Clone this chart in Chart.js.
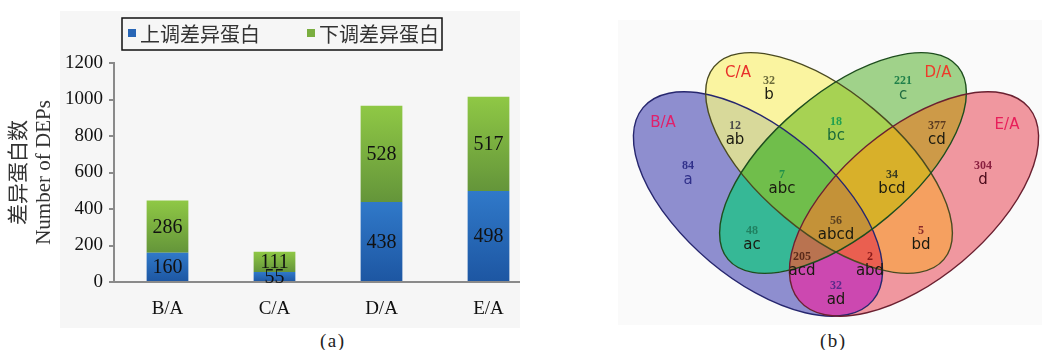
<!DOCTYPE html>
<html>
<head>
<meta charset="utf-8">
<script src="https://cdn.jsdelivr.net/npm/chart.js@4.4.1/dist/chart.umd.min.js"></script>
<style>
  body { margin: 0; width: 1042px; height: 350px; background: #fff; position: relative; overflow: hidden; }
  .panel { position: absolute; }
  #panelA { left: 60px; top: 11px; width: 460px; height: 317px; background: #f6f6f6; }
  #wrapA { position: absolute; left: 0; top: 0; width: 520px; height: 350px; overflow: hidden; }
  #panelB { left: 618px; top: 20px; width: 424px; height: 305px; background: #fafafa; }
  #vennChart { position: absolute; left: 620px; top: 20px; }
  .caption { position: absolute; top: 330px; font: 19px 'Liberation Serif', serif; letter-spacing: 1.5px; color: #222; }
</style>
</head>
<body>
<div class="panel" id="panelA"></div>
<div id="wrapA"><canvas id="barChart" width="545" height="330"></canvas></div>
<div class="panel" id="panelB"></div>
<canvas id="vennChart" width="420" height="305"></canvas>
<div class="caption" style="left:320px">(a)</div>
<div class="caption" style="left:820px">(b)</div>

<script>
// bar chart data
const categories = ['B/A', 'C/A', 'D/A', 'E/A'];
const upRegulated = [160, 55, 438, 498];
const downRegulated = [286, 111, 528, 517];
const seriesNames = ['上调差异蛋白', '下调差异蛋白'];
const yMax = 1200;
const yStep = 200;

// venn data: region keys use a=B/A, b=C/A, c=D/A, d=E/A
const setNames = ['B/A', 'C/A', 'D/A', 'E/A'];
const regionKeys = ['a', 'b', 'c', 'd', 'ab', 'bc', 'cd', 'ac', 'abc', 'bcd', 'bd', 'abcd', 'acd', 'abd', 'ad'];
const regionCounts = [84, 32, 221, 304, 12, 18, 377, 48, 7, 34, 5, 56, 205, 2, 32];

const serif = "'Liberation Serif', 'Times New Roman', serif";
const cjk = "'Liberation Serif', 'Noto Sans CJK SC', serif";
const sans = "'DejaVu Sans', sans-serif";

const barColors = [
  { top: '#3079c9', bottom: '#1d56a2', flat: '#2866b6' },
  { top: '#8fc845', bottom: '#64953a', flat: '#7aae40' }
];

function segmentGradient(c, ds) {
  const chart = c.chart;
  const y = chart.scales.y;
  const col = barColors[ds];
  if (!y || c.dataIndex === undefined) return col.flat;
  const i = c.dataIndex;
  const lo = ds === 0 ? 0 : upRegulated[i];
  const hi = ds === 0 ? upRegulated[i] : upRegulated[i] + downRegulated[i];
  const y0 = y.getPixelForValue(hi);
  const y1 = y.getPixelForValue(lo);
  if (!isFinite(y0) || !isFinite(y1)) return col.flat;
  const g = chart.ctx.createLinearGradient(0, y0, 0, y1);
  g.addColorStop(0, col.top);
  g.addColorStop(1, col.bottom);
  return g;
}

// boxed legend above the plot
const boxedLegend = {
  id: 'boxedLegend',
  afterDraw(chart) {
    const ctx = chart.ctx;
    const left = chart.chartArea.left + 8;
    const top = 18;
    ctx.save();
    ctx.strokeStyle = '#111';
    ctx.lineWidth = 1.5;
    ctx.strokeRect(left, top, 320, 32);
    ctx.font = "20px 'Noto Sans CJK SC', sans-serif";
    ctx.textBaseline = 'middle';
    chart.data.datasets.forEach((ds, i) => {
      const x = left + 6 + i * 179;
      ctx.fillStyle = barColors[i].flat;
      ctx.fillRect(x, top + 11, 8, 8);
      ctx.fillStyle = '#333';
      ctx.fillText(ds.label, x + 12, top + 16);
    });
    ctx.restore();
  }
};

// value labels centred in each stacked segment
const segmentLabels = {
  id: 'segmentLabels',
  afterDatasetsDraw(chart) {
    const ctx = chart.ctx;
    ctx.save();
    ctx.font = '20px ' + serif;
    ctx.fillStyle = '#111';
    ctx.textAlign = 'center';
    ctx.textBaseline = 'middle';
    chart.data.datasets.forEach((ds, d) => {
      chart.getDatasetMeta(d).data.forEach((bar, i) => {
        const p = bar.getProps(['x', 'y', 'base'], true);
        ctx.fillText(String(ds.data[i]), p.x, (p.y + p.base) / 2 + 1);
      });
    });
    ctx.restore();
  }
};

new Chart(document.getElementById('barChart'), {
  type: 'bar',
  data: {
    labels: categories,
    datasets: [
      { label: seriesNames[0], data: upRegulated, backgroundColor: c => segmentGradient(c, 0) },
      { label: seriesNames[1], data: downRegulated, backgroundColor: c => segmentGradient(c, 1) }
    ]
  },
  options: {
    responsive: false,
    animation: false,
    devicePixelRatio: 1,
    categoryPercentage: 1,
    barPercentage: 0.39,
    layout: { padding: { top: 63, bottom: 8, right: 3, left: 0 } },
    plugins: { legend: { display: false }, tooltip: { enabled: false } },
    scales: {
      x: {
        stacked: true,
        grid: { display: false },
        border: { color: '#8a8a8a', width: 2 },
        ticks: { color: '#111', font: { family: serif, size: 19 }, padding: 8 },
        afterFit: s => { s.height = 40; }
      },
      y: {
        stacked: true,
        min: 0,
        max: yMax,
        ticks: { stepSize: yStep, color: '#111', font: { family: serif, size: 19 }, padding: 6, callback: v => String(v) },
        grid: { drawOnChartArea: false, drawTicks: true, tickLength: 5, color: '#8a8a8a', lineWidth: 2 },
        border: { color: '#8a8a8a', width: 2 },
        title: {
          display: true,
          text: ['差异蛋白数', 'Number of DEPs'],
          color: '#333',
          font: { family: cjk, size: 21, lineHeight: 1.2 },
          padding: { top: 7, bottom: 0 }
        },
        afterFit: s => { s.width = 114; }
      }
    }
  },
  plugins: [boxedLegend, segmentLabels]
});

// ---- four-set ellipse Venn ----
const ellipses = [
  { x: 138, y: 184, rx: 150, ry: 75, angle: 40, stroke: '#26266e' },
  { x: 209, y: 143, rx: 150, ry: 70, angle: 40, stroke: '#4a4a20' },
  { x: 223, y: 143, rx: 150, ry: 70, angle: -40, stroke: '#1d4d1d' },
  { x: 294, y: 184, rx: 150, ry: 75, angle: -40, stroke: '#6a2030' }
];
const setLetters = 'abcd';
const regionFill = {
  a: '#8e8ecf', b: '#faf4a0', c: '#a0d28a', d: '#f0979f',
  ab: '#d8d99a', bc: '#a7d253', cd: '#cd9a48', ac: '#36b896',
  abc: '#70be4b', bcd: '#d8b02a', bd: '#f5a060', abcd: '#c49238',
  acd: '#b97350', abd: '#ea5f50', ad: '#cc48b0'
};
const countColor = {
  a: '#30308a', b: '#6a6a3a', c: '#20804a', d: '#8a2040',
  ab: '#4a4a4a', bc: '#20a050', cd: '#5a3a20', ac: '#208060',
  abc: '#20904a', bcd: '#3a3a20', bd: '#8a2a2a', abcd: '#5a4020',
  acd: '#5a2a1a', abd: '#8a1a1a', ad: '#5a2a8a'
};
const keyColor = { a: '#30308a', c: '#1f6a40', bc: '#1a6a3a', d: '#4a0a1a' };
const labelPos = {
  a: [68, 146], b: [149, 61], c: [283, 61], d: [363, 146],
  ab: [115, 106], bc: [216, 102], cd: [317, 106], ac: [132, 211],
  abc: [162, 155], bcd: [272, 155], bd: [301, 211], abcd: [216, 201],
  acd: [182, 237], abd: [250, 237], ad: [216, 266]
};
const setNamePos = [[43, 103], [118, 53], [318, 53], [387, 105]];
const setNameColor = ['#e0206a', '#e8302a', '#ee3a2a', '#e81e5a'];

const vennShapes = {
  id: 'vennShapes',
  beforeDatasetsDraw(chart) {
    const ctx = chart.ctx;
    const sx = chart.scales.x, sy = chart.scales.y;
    const a = chart.chartArea;
    const k = sx.getPixelForValue(1) - sx.getPixelForValue(0);
    const path = e => ctx.ellipse(sx.getPixelForValue(e.x), sy.getPixelForValue(e.y),
      e.rx * k, e.ry * k, e.angle * Math.PI / 180, 0, Math.PI * 2);
    regionKeys.forEach(key => {
      ctx.save();
      ellipses.forEach((e, j) => {
        ctx.beginPath();
        if (key.includes(setLetters[j])) {
          path(e);
          ctx.clip();
        } else {
          ctx.rect(a.left, a.top, a.right - a.left, a.bottom - a.top);
          path(e);
          ctx.clip('evenodd');
        }
      });
      ctx.fillStyle = regionFill[key];
      ctx.fillRect(a.left, a.top, a.right - a.left, a.bottom - a.top);
      ctx.restore();
    });
    ctx.save();
    ctx.lineWidth = 1.4;
    ellipses.forEach(e => {
      ctx.beginPath();
      path(e);
      ctx.strokeStyle = e.stroke;
      ctx.stroke();
    });
    ctx.restore();
  },
  afterDatasetsDraw(chart) {
    const ctx = chart.ctx;
    const sx = chart.scales.x, sy = chart.scales.y;
    ctx.save();
    ctx.textAlign = 'center';
    ctx.textBaseline = 'middle';
    chart.getDatasetMeta(0).data.forEach((pt, i) => {
      const key = regionKeys[i];
      ctx.font = 'bold 12px ' + serif;
      ctx.fillStyle = countColor[key];
      ctx.fillText(String(regionCounts[i]), pt.x, pt.y);
      ctx.font = '15px ' + sans;
      ctx.fillStyle = keyColor[key] || '#1a1a10';
      ctx.fillText(key, pt.x, pt.y + 14);
    });
    ctx.font = '15px ' + sans;
    setNames.forEach((name, i) => {
      ctx.fillStyle = setNameColor[i];
      ctx.fillText(name, sx.getPixelForValue(setNamePos[i][0]), sy.getPixelForValue(setNamePos[i][1]));
    });
    ctx.restore();
  }
};

new Chart(document.getElementById('vennChart'), {
  type: 'scatter',
  data: {
    datasets: [{
      data: regionKeys.map((key, i) => ({ x: labelPos[key][0], y: labelPos[key][1], count: regionCounts[i] })),
      pointRadius: 0
    }]
  },
  options: {
    responsive: false,
    animation: false,
    devicePixelRatio: 1,
    layout: { padding: 0 },
    plugins: { legend: { display: false }, tooltip: { enabled: false } },
    scales: {
      x: { type: 'linear', min: 0, max: 420, display: false },
      y: { type: 'linear', min: 0, max: 305, reverse: true, display: false }
    }
  },
  plugins: [vennShapes]
});
</script>
</body>
</html>
